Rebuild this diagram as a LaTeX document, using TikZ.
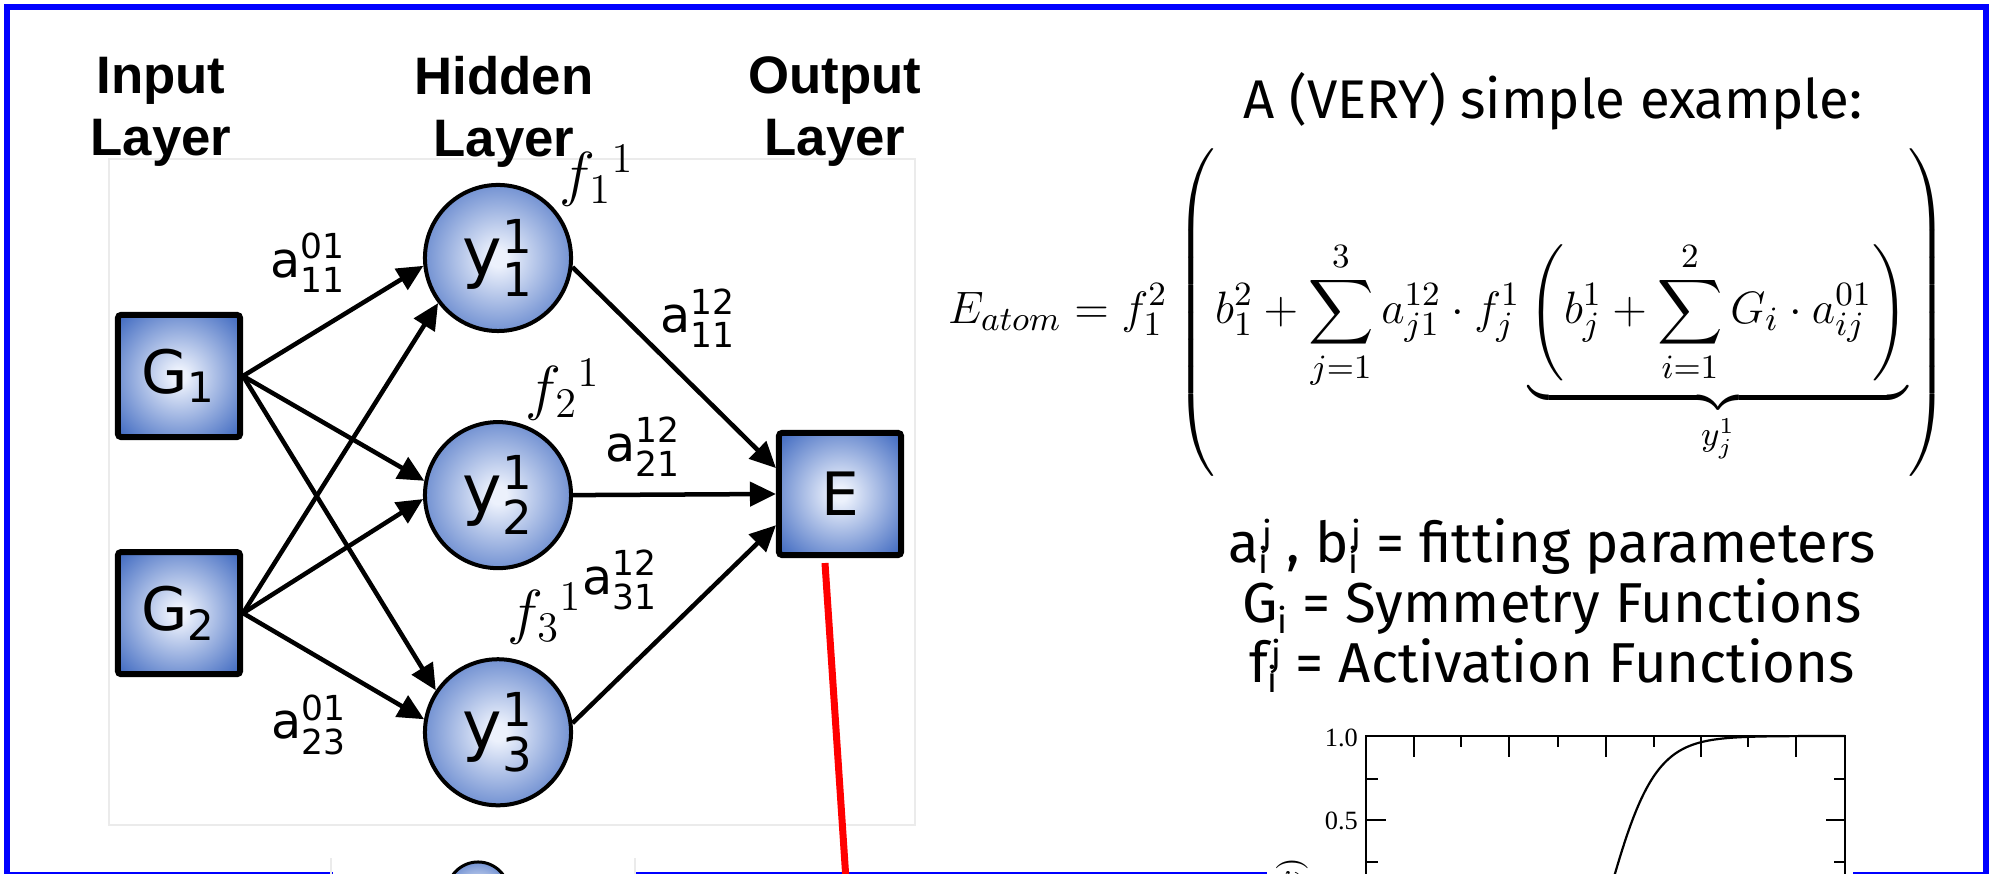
\documentclass[tikz,border=0pt]{standalone}
\usepackage{amsmath}
\usepackage{graphicx}
\usepackage[no-math]{fontspec}
\newfontfamily\nnfont{DejaVu Sans}
\newfontfamily\headfont{Liberation Sans}
\newfontfamily\handfont{Fira Sans}
\newfontfamily\plotfont{Liberation Serif}
\usetikzlibrary{arrows.meta,positioning}

\definecolor{nnblue}{RGB}{50,95,188}
\definecolor{nnlight}{RGB}{236,241,252}
\definecolor{frameblue}{RGB}{0,0,255}
\pgfdeclareradialshading{nnshade}{\pgfpoint{0bp}{0bp}}{color(0bp)=(nnlight); color(3bp)=(nnlight); color(37bp)=(nnblue); color(50bp)=(nnblue)}
\newcommand{\symlab}[3]{$\text{#1}^{\text{#2}}_{\text{#3}}$}
\newcommand{\idxlab}[3]{#1\raisebox{-0.35ex}{\fontsize{10}{10}\selectfont #3}\kern-0.12em\raisebox{0.55ex}{\fontsize{10}{10}\selectfont #2}}
\newcommand{\tightlines}{\setlength{\lineskiplimit}{-20pt}}

\begin{document}
\begin{tikzpicture}[x=0.01cm, y=-0.01cm, node distance=2.37cm,
  >={Triangle[length=0.26cm,width=0.24cm]},
  inbox/.style={draw, line width=0.06cm, rounded corners=0.03cm, minimum size=1.22cm, inner sep=0pt, shade, shading=nnshade, font=\nnfont\fontsize{17}{20}\selectfont},
  hidnode/.style={circle, draw, line width=0.04cm, minimum size=1.46cm, inner sep=0pt, shade, shading=nnshade, font=\nnfont\fontsize{19}{22}\selectfont},
  head/.style={align=center, font=\headfont\bfseries\fontsize{15}{17.6}\selectfont},
  wlab/.style={inner sep=0pt, font=\nnfont\fontsize{14}{16}\selectfont},
  flab/.style={inner sep=0pt, font=\fontsize{18}{20}\selectfont},
  link/.style={->, line width=0.045cm},
  tick/.style={line width=0.02cm}]

\useasboundingbox (0,0) rectangle (1991,874);
\clip (0,0) rectangle (1991,874);

\draw[frameblue, line width=0.06cm] (333,875) -- (7,875) -- (7,7.5) -- (1986,7.5) -- (1986,875) -- (1853,875);
\draw[frameblue, line width=0.06cm] (634,875) -- (1267,875);

\draw[black!8] (109,159) rectangle (915,825);
\draw[black!8] (331,900) -- (331,858);
\draw[black!8] (635,858) -- (635,900);

\node[head] (inhead) at (161,112) {Input\\Layer};
\node[head] (hidhead) at (504,112) {Hidden\\Layer};
\node[head] (outhead) at (835,112) {Output\\Layer};

\node[inbox] (G1) at (179,376) {$\text{G}_{\text{1}}$};
\node[inbox, below of=G1] (G2) {$\text{G}_{\text{2}}$};
\node[hidnode] (y1) at (498,258) {\symlab{y}{1}{1}};
\node[hidnode, below of=y1] (y2) {\symlab{y}{1}{2}};
\node[hidnode, below of=y2] (y3) {\symlab{y}{1}{3}};
\node[inbox] (E) at (840,494) {E};

\draw[link] (G1.east) -- (y1.186);
\draw[link] (G1.east) -- (y2.169);
\draw[link] (G1.east) -- (y3.146);
\draw[link] (G2.east) -- (y1.217);
\draw[link] (G2.east) -- (y2.183);
\draw[link] (G2.east) -- (y3.170);
\draw[link] (y1.-7) -- (E.158);
\draw[link] (y2.east) -- (E.west);
\draw[link] (y3.7) -- (E.206);

\node[wlab] (a0111) at (308,263) {\symlab{a}{01}{11}};
\node[wlab] (a0123) at (309,725) {\symlab{a}{01}{23}};
\node[wlab] (a1211) at (698,318) {\symlab{a}{12}{11}};
\node[wlab] (a1221) at (643,447) {\symlab{a}{12}{21}};
\node[wlab] (a1231) at (620,580) {\symlab{a}{12}{31}};
\node[flab] (f11) at (597,176) {$f_1{}^{1}$};
\node[flab] (f21) at (563,390) {$f_2{}^{1}$};
\node[flab] (f31) at (545,614) {$f_3{}^{1}$};

\draw[red, line width=0.07cm] ([xshift=-0.15cm,yshift=-0.05cm]E.south) -- (846,880);

\node[font=\handfont\fontsize{15.5}{18}\selectfont] (title) at (1553,101) {A (VERY) simple example:};
\node[inner sep=0pt, font=\fontsize{12.8}{15}\selectfont] (energy) at (1448,312)
  {\scalebox{1.076}{$\displaystyle E_{atom} = f_1^{2}\left(\vphantom{\rule[-1.43cm]{0pt}{3.08cm}} b_1^2 + \sum_{j=1}^{3} a_{j1}^{12}\cdot f_j^{1}\underbrace{\left(b_j^1+\sum_{i=1}^{2} G_i\cdot a_{ij}^{01}\right)}_{y_j^1}\right)$}};
\node[align=center, font=\handfont\fontsize{16}{17}\selectfont\tightlines] (legend) at (1552,606)
  {\idxlab{a}{j}{i} , \idxlab{b}{j}{i} = fitting parameters\\
   G\raisebox{-0.35ex}{\fontsize{10}{10}\selectfont i} = Symmetry Functions\\
   \idxlab{f}{j}{i} = Activation Functions};

\fill[white] (1267,860) rectangle (1853,880);
\draw[tick] (1366,900) -- (1366,736) -- (1845,736) -- (1845,900);
\foreach \t in {1414,1509,1606,1701,1796} \draw[tick] (\t,736) -- (\t,757);
\foreach \t in {1461,1558,1654,1748} \draw[tick] (\t,736) -- (\t,747);
\draw[tick] (1366,820) -- (1386,820);
\draw[tick] (1845,820) -- (1826,820);
\foreach \v in {779,862} {
  \draw[tick] (1366,\v) -- (1378,\v);
  \draw[tick] (1845,\v) -- (1834,\v);
}
\node[anchor=east, inner sep=1pt, font=\plotfont\fontsize{7.5}{8}\selectfont] (ytop) at (1362,738) {1.0};
\node[anchor=east, inner sep=1pt, font=\plotfont\fontsize{7.5}{8}\selectfont] (yhalf) at (1362,821) {0.5};
\node[rotate=90, anchor=east, inner sep=0pt, font=\plotfont\fontsize{9}{10}\selectfont] (ylabel) at (1292,857) {$f(x)$};
\draw[line width=0.022cm] plot[domain=0.15:5, samples=80, smooth] ({1606+47.75*\x}, {736+169*(1-tanh(\x))});

\fill[white] (333,857) rectangle (634,880);
\shade[draw, line width=0.03cm, shading=nnshade] (478,893) circle (0.31cm);
\end{tikzpicture}
\end{document}
